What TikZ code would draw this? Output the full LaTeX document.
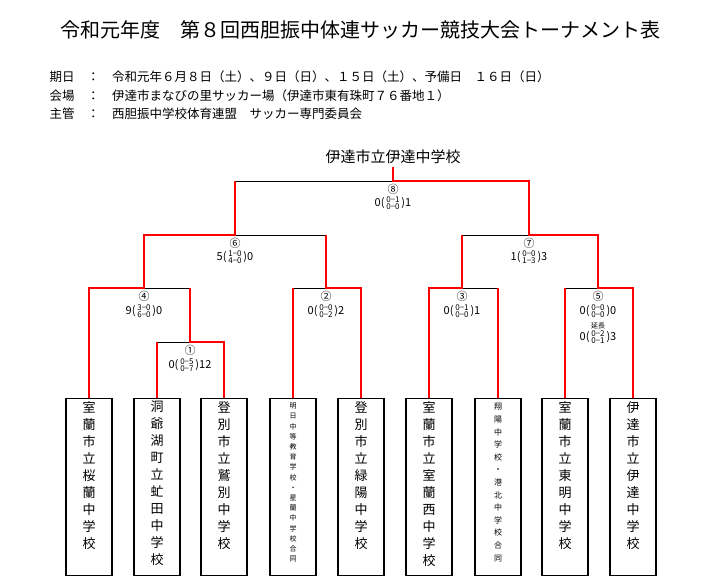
\documentclass[tikz,border=0pt]{standalone}
\usepackage{fontspec}
\setmainfont{Noto Sans CJK JP}
\usetikzlibrary{positioning}
\newcommand{\score}[4]{#1(\,{\fontsize{8}{8}\selectfont\begin{tabular}{@{}c@{}}#2\\[-1pt]#3\end{tabular}}\,)#4}
\begin{document}
\begin{tikzpicture}[x=1pt,y=-1pt,
  team/.style={draw, line width=1.4pt, minimum width=46pt, minimum height=177pt, anchor=north, inner sep=0pt},
  tname/.style={anchor=north, align=center, font=\fontsize{13}{17}\selectfont, inner sep=0pt},
  tsmall/.style={anchor=north, align=center, font=\fontsize{7}{10.2}\selectfont, inner sep=0pt},
  lose/.style={draw=black, line width=0.8pt},
  win/.style={draw=red, line width=2pt},
  mno/.style={font=\fontsize{11}{11}\selectfont, inner sep=0pt},
  sc/.style={font=\fontsize{11}{11}\selectfont, inner sep=0pt}]
\useasboundingbox (0,0) rectangle (725,581);
% header
\node[font=\fontsize{20}{20}\selectfont] (title) at (360,30) {令和元年度　第８回西胆振中体連サッカー競技大会トーナメント表};
\node[anchor=west, font=\fontsize{12.5}{12.5}\selectfont] (h1) at (46,77) {期日　：　令和元年６月８日（土）、９日（日）、１５日（土）、予備日　１６日（日）};
\node[anchor=west, font=\fontsize{12.5}{12.5}\selectfont] (h2) at (46,96) {会場　：　伊達市まなびの里サッカー場（伊達市東有珠町７６番地１）};
\node[anchor=west, font=\fontsize{12.5}{12.5}\selectfont] (h3) at (46,114) {主管　：　西胆振中学校体育連盟　サッカー専門委員会};
% teams
\foreach \n/\x in {1/89,2/157,3/224,4/293,5/361,6/429,7/498,8/565,9/633}
  \node[team] (t\n) at (\x,398) {};
\node[tname] (n1) at (89,401) {室\\蘭\\市\\立\\桜\\蘭\\中\\学\\校};
\node[tname] (n2) at (157,401) {洞\\爺\\湖\\町\\立\\虻\\田\\中\\学\\校};
\node[tname] (n3) at (224,401) {登\\別\\市\\立\\鷲\\別\\中\\学\\校};
\node[tsmall] (n4) at (293,403) {明\\日\\中\\等\\教\\育\\学\\校\\・\\星\\蘭\\中\\学\\校\\合\\同};
\node[tname] (n5) at (361,401) {登\\別\\市\\立\\緑\\陽\\中\\学\\校};
\node[tname] (n6) at (429,401) {室\\蘭\\市\\立\\室\\蘭\\西\\中\\学\\校};
\node[tsmall, font=\fontsize{8}{12.6}\selectfont] (n7) at (498,403) {翔\\陽\\中\\学\\校\\・\\港\\北\\中\\学\\校\\合\\同};
\node[tname] (n8) at (565,401) {室\\蘭\\市\\立\\東\\明\\中\\学\\校};
\node[tname] (n9) at (633,401) {伊\\達\\市\\立\\伊\\達\\中\\学\\校};
% junctions
\coordinate (m1) at (190,342);
\coordinate (m4) at (144,288);
\coordinate (m2) at (326,288);
\coordinate (m3) at (462,288);
\coordinate (m5) at (598,288);
\coordinate (m6) at (235,235);
\coordinate (m7) at (529,235);
\coordinate (m8) at (393,181);
\node[font=\fontsize{15}{15}\selectfont] (champ) at (393,157) {伊達市立伊達中学校};
% loser halves
\draw[lose] (t2.north |- m1) -- (m1);
\draw[lose] (m1 |- m4) -- (m4);
\draw[lose] (t4.north |- m2) -- (m2);
\draw[lose] (t7.north |- m3) -- (m3);
\draw[lose] (t8.north |- m5) -- (m5);
\draw[lose] (m2 |- m6) -- (m6);
\draw[lose] (m3 |- m7) -- (m7);
\draw[lose] (m6 |- m8) -- (m8);
% red paths
\draw[win] (t2.north) -- (t2.north |- m1);
\draw[win] (t3.north) -- (t3.north |- m1) -- (m1) -- (m1 |- m4);
\draw[win] (t1.north) -- (t1.north |- m4) -- (m4) -- (m4 |- m6) -- (m6) -- (m6 |- m8);
\draw[win] (t4.north) -- (t4.north |- m2);
\draw[win] (t5.north) -- (t5.north |- m2) -- (m2) -- (m2 |- m6);
\draw[win] (t6.north) -- (t6.north |- m3) -- (m3) -- (m3 |- m7);
\draw[win] (t7.north) -- (t7.north |- m3);
\draw[win] (t8.north) -- (t8.north |- m5);
\draw[win] (t9.north) -- (t9.north |- m5) -- (m5) -- (m5 |- m7) -- (m7) -- (m7 |- m8) -- (m8) -- (champ.south);
% match labels
\node[mno, below=3pt of m1] (l1) {①};
\node[sc, below=3pt of l1] (s1) {\score{0}{0−5}{0−7}{12}};
\node[mno, below=3pt of m4] (l4) {④};
\node[sc, below=3pt of l4] (s4) {\score{9}{3−0}{6−0}{0}};
\node[mno, below=3pt of m2] (l2) {②};
\node[sc, below=3pt of l2] (s2) {\score{0}{0−0}{0−2}{2}};
\node[mno, below=3pt of m3] (l3) {③};
\node[sc, below=3pt of l3] (s3) {\score{0}{0−1}{0−0}{1}};
\node[mno, below=3pt of m5] (l5) {⑤};
\node[sc, below=3pt of l5] (s5) {\score{0}{0−0}{0−0}{0}};
\node[sc, font=\fontsize{7}{7}\selectfont, below=2pt of s5] (e5) {延長};
\node[sc, below=1pt of e5] (t5s) {\score{0}{0−2}{0−1}{3}};
\node[mno, below=3pt of m6] (l6) {⑥};
\node[sc, below=2pt of l6] (s6) {\score{5}{1−0}{4−0}{0}};
\node[mno, below=3pt of m7] (l7) {⑦};
\node[sc, below=2pt of l7] (s7) {\score{1}{0−0}{1−3}{3}};
\node[mno, below=3pt of m8] (l8) {⑧};
\node[sc, below=2pt of l8] (s8) {\score{0}{0−1}{0−0}{1}};
\end{tikzpicture}
\end{document}
